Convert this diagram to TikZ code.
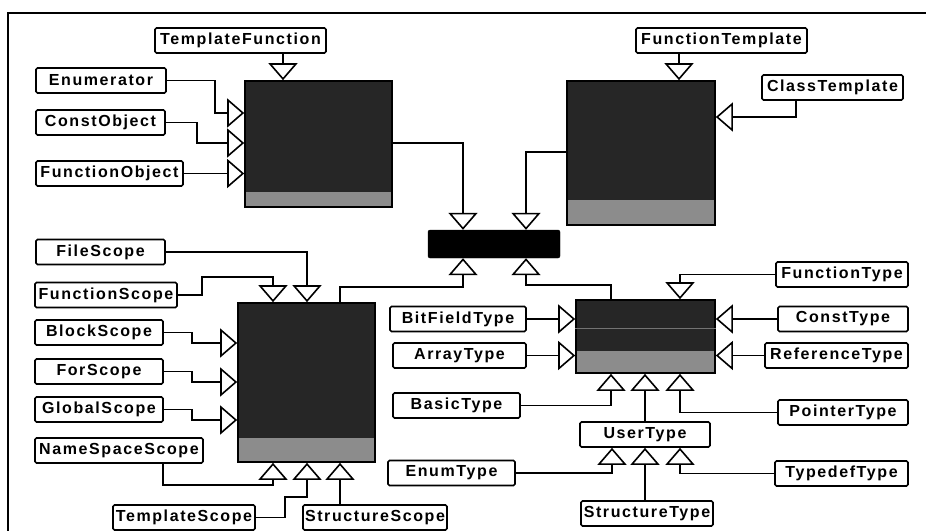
\documentclass[tikz,border=0pt]{standalone}
\usepackage{fontspec}
\setsansfont{Liberation Sans}[LetterSpace=10]
\usetikzlibrary{arrows.meta}

\begin{document}
\begin{tikzpicture}[x=1pt,y=-1pt,
  cls/.style={draw,line width=1.7pt,rounded corners=1.5pt,inner sep=0pt,
              minimum height=25pt,
              font=\sffamily\bfseries\fontsize{16}{16}\selectfont},
  dark/.style={draw,line width=1.7pt,fill=black!85,inner sep=0pt,
               path picture={\fill[black!45]
                 (path picture bounding box.south west) rectangle
                 ([yshift=#1]path picture bounding box.south east);}},
  inh/.style={-{Triangle[open,length=17pt,width=29pt,line width=1.6pt]},
              line width=1.2pt}
]
\useasboundingbox (0,0) rectangle (926,531);
\draw[line width=1.2pt] (926,13) -- (8,13) -- (8,531);

% dark class boxes
\node[dark=15pt,minimum width=147pt,minimum height=126pt] (objbox) at (318.5,144) {};
\node[dark=25pt,minimum width=148pt,minimum height=144pt] (tmplbox) at (641,153) {};
\node[dark=24pt,minimum width=137pt,minimum height=159pt] (scopebox) at (306.5,382.5) {};
\node[dark=22pt,minimum width=139pt,minimum height=73pt] (typebox) at (645.5,336.5) {};
\draw[black!55,line width=1pt] (typebox.west |- 0,328) -- (typebox.east |- 0,328);
\node[draw,fill=black,rounded corners=2pt,minimum width=132pt,minimum height=28pt] (symbol) at (494,244) {};

% upper left
\node[cls,minimum width=171pt] (tfunc) at (240.5,40.5) {TemplateFunction};
\node[cls,minimum width=130pt] (enumr) at (101,80.5) {Enumerator};
\node[cls,minimum width=129pt] (cobj) at (100.5,122.5) {ConstObject};
\node[cls,minimum width=147pt] (fobj) at (109.5,173.5) {FunctionObject};

% upper right
\node[cls,minimum width=171pt] (ftmpl) at (721.5,40.5) {FunctionTemplate};
\node[cls,minimum width=141pt] (ctmpl) at (832.5,87.5) {ClassTemplate};

% scopes
\node[cls,minimum width=129pt] (fscope) at (100.5,252) {FileScope};
\node[cls,minimum width=142pt] (fnscope) at (106,295) {FunctionScope};
\node[cls,minimum width=128pt] (bscope) at (99,332.5) {BlockScope};
\node[cls,minimum width=128pt] (forscope) at (99,371.5) {ForScope};
\node[cls,minimum width=128pt] (gscope) at (99,409.5) {GlobalScope};
\node[cls,minimum width=168pt] (nsscope) at (119,450.5) {NameSpaceScope};
\node[cls,minimum width=142pt] (tscope) at (184,517.5) {TemplateScope};
\node[cls,minimum width=144pt] (stscope) at (375,517.5) {StructureScope};

% types
\node[cls,minimum width=136pt] (bftype) at (458,319) {BitFieldType};
\node[cls,minimum width=133pt] (arrtype) at (459.5,355.5) {ArrayType};
\node[cls,minimum width=127pt] (basictype) at (456.5,405.5) {BasicType};
\node[cls,minimum width=127pt] (enumtype) at (451.5,473) {EnumType};
\node[cls,minimum width=132pt] (fntype) at (842,274.5) {FunctionType};
\node[cls,minimum width=130pt] (ctype) at (843,319) {ConstType};
\node[cls,minimum width=143pt] (reftype) at (836.5,355.5) {ReferenceType};
\node[cls,minimum width=130pt] (ptrtype) at (843,412.5) {PointerType};
\node[cls,minimum width=130pt] (usertype) at (645,434.5) {UserType};
\node[cls,minimum width=133pt] (tdtype) at (841.5,473.5) {TypedefType};
\node[cls,minimum width=132pt] (sttype) at (647,513.5) {StructureType};

% generalisations
\draw[inh] (tfunc.south -| 283,0) -- (objbox.north -| 283,0);
\draw[inh] (enumr.east) -| (215,113) -- (objbox.west |- 0,113);
\draw[inh] (cobj.east) -| (197,143) -- (objbox.west |- 0,143);
\draw[inh] (fobj.east) -- (objbox.west |- fobj.east);
\draw[inh] (objbox.east |- 0,143) -| (symbol.north -| 463,0);
\draw[inh] (tmplbox.west |- 0,152) -| (symbol.north -| 526,0);
\draw[inh] (ftmpl.south -| 679,0) -- (tmplbox.north -| 679,0);
\draw[inh] (ctmpl.south -| 796,0) |- (tmplbox.east |- 0,117);
\draw[inh] (scopebox.north -| 340,0) |- (463,287) -- (symbol.south -| 463,0);
\draw[inh] (typebox.north -| 611,0) |- (526,285) -- (symbol.south -| 526,0);

\draw[inh] (fscope.east) -| (scopebox.north -| 307,0);
\draw[inh] (fnscope.east) -| (202,277) -| (scopebox.north -| 273,0);
\draw[inh] (bscope.east) -| (192,343) -- (scopebox.west |- 0,343);
\draw[inh] (forscope.east) -| (192,382) -- (scopebox.west |- 0,382);
\draw[inh] (gscope.east) -| (192,420) -- (scopebox.west |- 0,420);
\draw[inh] (nsscope.south -| 163,0) |- (273,485) -- (scopebox.south -| 273,0);
\draw[inh] (tscope.east) -| (285,497) -| (scopebox.south -| 307,0);
\draw[inh] (stscope.north -| 340,0) -- (scopebox.south -| 340,0);

\draw[inh] (bftype.east) -- (typebox.west |- bftype.east);
\draw[inh] (arrtype.east) -- (typebox.west |- arrtype.east);
\draw[inh] (fntype.west) -| (typebox.north -| 680,0);
\draw[inh] (ctype.west) -- (typebox.east |- ctype.west);
\draw[inh] (reftype.west) -- (typebox.east |- reftype.west);
\draw[inh] (basictype.east) -| (typebox.south -| 611,0);
\draw[inh] (usertype.north) -- (typebox.south -| usertype.north);
\draw[inh] (ptrtype.west) -| (typebox.south -| 680,0);
\draw[inh] (enumtype.east) -| (usertype.south -| 612,0);
\draw[inh] (sttype.north -| 645,0) -- (usertype.south -| 645,0);
\draw[inh] (tdtype.west) -| (usertype.south -| 680,0);
\end{tikzpicture}
\end{document}
